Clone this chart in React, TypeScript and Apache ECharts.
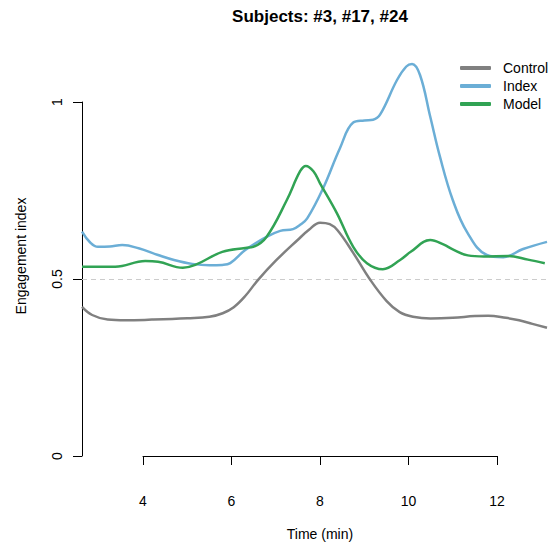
import React, { useEffect, useRef } from "react";
import * as echarts from "echarts";

const FONT = "'Liberation Sans', Arial, Helvetica, sans-serif";

const seriesNames = ["Control", "Index", "Model"];
const seriesColors = ["#808080", "#6baed6", "#31a354"];

const xTicks = [4, 6, 8, 10, 12];
const yTicks = [0, 0.5, 1];

const controlData: [number, number][] = [
  [2.62, 0.423], [2.85, 0.4], [3.2, 0.387], [3.6, 0.385], [4.2, 0.387],
  [5.0, 0.391], [5.5, 0.395], [5.8, 0.405], [6.05, 0.422], [6.3, 0.452],
  [6.6, 0.499], [7.0, 0.553], [7.5, 0.612], [7.75, 0.64], [8.0, 0.66],
  [8.22, 0.656], [8.4, 0.638], [8.75, 0.575], [9.13, 0.5], [9.5, 0.44],
  [9.8, 0.408], [10.1, 0.395], [10.5, 0.39], [11.0, 0.392], [11.5, 0.397],
  [11.8, 0.398], [12.2, 0.392], [12.5, 0.385], [12.8, 0.375], [13.13, 0.364],
];

const indexData: [number, number][] = [
  [2.62, 0.635], [2.8, 0.605], [2.98, 0.592], [3.25, 0.593], [3.53, 0.597],
  [3.9, 0.588], [4.34, 0.569], [4.7, 0.555], [5.11, 0.544], [5.5, 0.54],
  [5.79, 0.541], [5.97, 0.546], [6.31, 0.583], [6.79, 0.62], [7.1, 0.637],
  [7.39, 0.642], [7.55, 0.654], [7.71, 0.672], [8.07, 0.757], [8.45, 0.87],
  [8.75, 0.942], [9.0, 0.948], [9.2, 0.95], [9.36, 0.965], [9.74, 1.062],
  [9.95, 1.1], [10.08, 1.107], [10.26, 1.076], [10.49, 0.959], [10.71, 0.846],
  [11.0, 0.724], [11.33, 0.632], [11.77, 0.569], [12.14, 0.563], [12.59, 0.586],
  [13.13, 0.606],
];

const modelData: [number, number][] = [
  [2.62, 0.536], [3.37, 0.536], [4.05, 0.552], [4.34, 0.55], [4.9, 0.533],
  [5.18, 0.541], [5.79, 0.578], [6.31, 0.589], [6.49, 0.592], [6.79, 0.62],
  [7.25, 0.724], [7.55, 0.805], [7.68, 0.82], [7.85, 0.805], [8.0, 0.771],
  [8.38, 0.687], [8.75, 0.592], [9.06, 0.546], [9.42, 0.529], [9.81, 0.555],
  [10.05, 0.578], [10.49, 0.611], [10.8, 0.598], [11.0, 0.585], [11.34, 0.568],
  [11.7, 0.565], [12.25, 0.566], [12.7, 0.556], [13.08, 0.546],
];

const referenceLine: [number, number][] = [
  [2.62, 0.5],
  [13.13, 0.5],
];

const titleText = "Subjects: #3, #17, #24";
const xName = "Time (min)";
const yName = "Engagement index";

export default function App() {
  const ref = useRef<HTMLDivElement>(null);

  useEffect(() => {
    if (!ref.current) return;
    const chart = echarts.init(ref.current, undefined, { renderer: "svg" });
    const datasets = [controlData, indexData, modelData];
    chart.setOption({
      animation: false,
      backgroundColor: "#ffffff",
      textStyle: { fontFamily: FONT },
      grid: [
        { left: 82, right: 8, top: 31, bottom: 18, containLabel: false },
        { left: 143, right: 58, top: 102, bottom: 89, containLabel: false },
      ],
      graphic: [
        {
          type: "text",
          x: 320,
          y: 16,
          style: {
            text: titleText,
            font: `bold 17px ${FONT}`,
            fill: "#000",
            align: "center",
            verticalAlign: "middle",
          },
        },
        {
          type: "text",
          x: 21,
          y: 256,
          rotation: Math.PI / 2,
          style: {
            text: yName,
            font: `14px ${FONT}`,
            fill: "#000",
            align: "center",
            verticalAlign: "middle",
          },
        },
      ],
      legend: {
        data: seriesNames,
        orient: "vertical",
        left: 460,
        top: 59,
        padding: 0,
        itemWidth: 31,
        itemHeight: 4,
        itemGap: 0,
        icon: "roundRect",
        textStyle: {
          fontSize: 14,
          fontFamily: FONT,
          color: "#000",
          lineHeight: 18,
          padding: [0, 0, 0, 7],
        },
      },
      xAxis: [
        {
          type: "value",
          gridIndex: 0,
          min: 2.62,
          max: 13.13,
          show: false,
        },
        {
          type: "value",
          gridIndex: 1,
          min: 4,
          max: 12,
          interval: 2,
          offset: 16,
          name: xName,
          nameLocation: "middle",
          nameGap: 55,
          nameTextStyle: { fontSize: 14, color: "#000", fontFamily: FONT },
          axisLine: { show: true, lineStyle: { color: "#000", width: 1 } },
          axisTick: { show: true, length: 9, lineStyle: { color: "#000" } },
          axisLabel: {
            fontSize: 14,
            color: "#000",
            margin: 22,
            fontFamily: FONT,
            customValues: xTicks,
          },
          splitLine: { show: false },
        },
      ],
      yAxis: [
        {
          type: "value",
          gridIndex: 0,
          min: -0.2,
          max: 1.2,
          show: false,
        },
        {
          type: "value",
          gridIndex: 1,
          min: 0,
          max: 1,
          interval: 0.5,
          offset: 61,
          axisLine: { show: true, lineStyle: { color: "#000", width: 1 } },
          axisTick: { show: true, length: 9, lineStyle: { color: "#000" } },
          axisLabel: {
            fontSize: 14,
            color: "#000",
            margin: 18,
            rotate: 90,
            fontFamily: FONT,
            customValues: yTicks,
          },
          splitLine: { show: false },
        },
      ],
      series: [
        {
          type: "line",
          name: "ref",
          xAxisIndex: 0,
          yAxisIndex: 0,
          data: referenceLine,
          symbol: "none",
          silent: true,
          lineStyle: { color: "#cccccc", width: 1, type: [5, 4] },
          z: 1,
        },
        ...seriesNames.map((name, i) => ({
          type: "line",
          name,
          xAxisIndex: 0,
          yAxisIndex: 0,
          data: datasets[i],
          symbol: "none",
          smooth: 0.4,
          color: seriesColors[i],
          lineStyle: { color: seriesColors[i], width: 2.5 },
          z: 2 + i,
        })),
      ],
    });
    return () => chart.dispose();
  }, []);

  return (
    <div
      ref={ref}
      style={{ position: "fixed", left: 0, top: 0, width: 555, height: 546 }}
    />
  );
}
